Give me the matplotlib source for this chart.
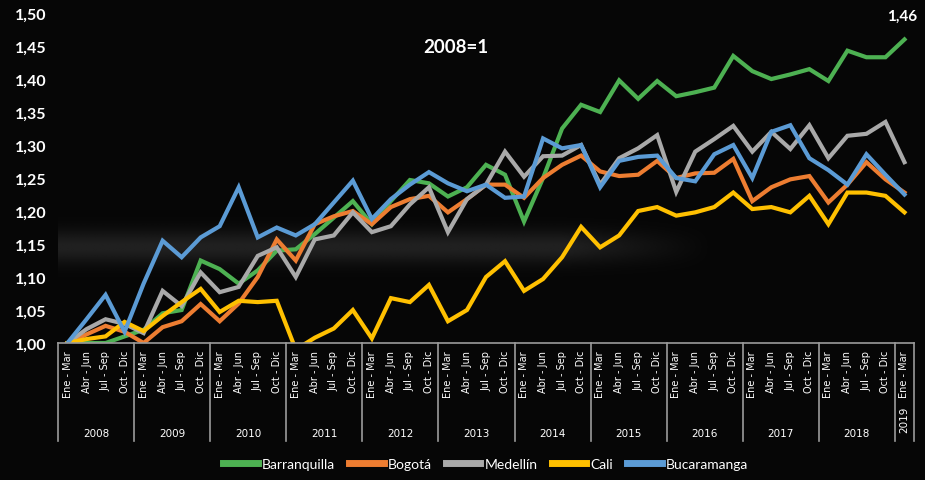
import numpy as np
import matplotlib.pyplot as plt
import matplotlib.transforms as mtransforms

# quarterly index, 2008 = 1
years = ["2008", "2009", "2010", "2011", "2012", "2013", "2014",
         "2015", "2016", "2017", "2018"]
quarters = ["Ene - Mar", "Abr - Jun", "Jul - Sep", "Oct - Dic"]
quarter_labels = quarters * len(years) + ["Ene - Mar"]

barranquilla = [1.00, 1.00, 1.00, 1.01, 1.02, 1.045, 1.05, 1.125, 1.112, 1.09,
                1.11, 1.14, 1.142, 1.165, 1.19, 1.215, 1.18, 1.215, 1.247, 1.242,
                1.222, 1.236, 1.27, 1.255, 1.184, 1.25, 1.325, 1.361, 1.35, 1.398,
                1.37, 1.397, 1.374, 1.38, 1.387, 1.435, 1.412, 1.40, 1.407, 1.415,
                1.397, 1.443, 1.433, 1.433, 1.46]
bogota = [1.00, 1.013, 1.026, 1.017, 1.00, 1.024, 1.033, 1.059, 1.033, 1.06,
          1.10, 1.157, 1.125, 1.18, 1.192, 1.20, 1.18, 1.206, 1.218, 1.223,
          1.198, 1.218, 1.24, 1.24, 1.22, 1.25, 1.27, 1.284, 1.26, 1.253,
          1.255, 1.276, 1.25, 1.257, 1.258, 1.279, 1.215, 1.236, 1.248, 1.253,
          1.213, 1.24, 1.274, 1.248, 1.228]
medellin = [1.00, 1.021, 1.036, 1.029, 1.015, 1.079, 1.056, 1.107, 1.077, 1.085,
            1.132, 1.145, 1.10, 1.157, 1.163, 1.198, 1.168, 1.177, 1.21, 1.236,
            1.168, 1.218, 1.24, 1.29, 1.252, 1.283, 1.284, 1.30, 1.24, 1.28,
            1.295, 1.315, 1.229, 1.29, 1.309, 1.329, 1.29, 1.32, 1.294, 1.33,
            1.28, 1.314, 1.317, 1.335, 1.274]
cali = [1.00, 1.006, 1.01, 1.032, 1.018, 1.041, 1.062, 1.082, 1.047, 1.064,
        1.062, 1.064, 0.99, 1.008, 1.022, 1.05, 1.007, 1.068, 1.062, 1.088,
        1.033, 1.05, 1.10, 1.124, 1.079, 1.097, 1.13, 1.176, 1.145, 1.163,
        1.20, 1.206, 1.193, 1.198, 1.206, 1.228, 1.203, 1.206, 1.198, 1.223,
        1.18, 1.228, 1.228, 1.223, 1.198]
bucaramanga = [1.00, 1.036, 1.073, 1.017, 1.09, 1.155, 1.13, 1.16, 1.177, 1.236,
               1.16, 1.175, 1.163, 1.18, 1.213, 1.246, 1.188, 1.218, 1.24, 1.259,
               1.242, 1.23, 1.24, 1.22, 1.222, 1.31, 1.295, 1.30, 1.236, 1.276,
               1.282, 1.284, 1.25, 1.245, 1.286, 1.30, 1.25, 1.32, 1.33, 1.28,
               1.262, 1.24, 1.286, 1.255, 1.225]

series = [("Barranquilla", barranquilla, "#4db152"),
          ("Bogotá", bogota, "#ed7d31"),
          ("Medellín", medellin, "#a9a9a9"),
          ("Cali", cali, "#ffc000"),
          ("Bucaramanga", bucaramanga, "#5b9bd5")]

x = list(range(len(quarter_labels)))

fig = plt.figure(figsize=(9.25, 4.81), dpi=100, facecolor="#060606")
ax = fig.add_axes([0.0627, 0.2848, 0.9254, 0.686])
ax.set_facecolor("#060606")

# soft hazy band behind the lines
gy = np.linspace(1.0, 1.5, 200)[:, None]
gx = np.linspace(-0.5, 44.5, 300)[None, :]
haze = np.exp(-((gy - 1.145) / 0.025) ** 2) * np.clip((34 - gx) / 8, 0, 1)
rgba = np.zeros((200, 300, 4))
rgba[..., :3] = 0.2
rgba[..., 3] = 0.6 * haze
ax.imshow(rgba, extent=(-0.5, 44.5, 1.0, 1.5), origin="lower",
          aspect="auto", zorder=0, interpolation="bilinear")

for name, vals, col in series:
    ax.plot(x, vals, color=col, lw=3, label=name, solid_joinstyle="miter")

ax.set_xlim(-0.5, 44.5)
ax.set_ylim(1.0, 1.5)

yt = [1.0 + 0.05 * k for k in range(11)]
ax.set_yticks(yt)
ax.set_yticklabels([f"{v:.2f}".replace(".", ",") for v in yt],
                   color="white", fontsize=11.5, fontweight="bold", family="Lato")
ax.tick_params(axis="y", length=0, pad=8)

ax.set_xticks(x)
ax.set_xticklabels(quarter_labels, rotation=90, color="white", fontsize=7,
                   family=["Liberation Sans Narrow", "DejaVu Sans"], va="top")
ax.tick_params(axis="x", length=0, pad=5)

for side in ["left", "right", "top"]:
    ax.spines[side].set_visible(False)
ax.spines["bottom"].set_color("#9a9a9a")
ax.spines["bottom"].set_linewidth(1.2)

# year separators and labels under the quarter labels
trans = mtransforms.blended_transform_factory(ax.transData, ax.transAxes)
bounds = [-0.5 + 4 * k for k in range(len(years) + 1)] + [44.5]
for xb in bounds:
    ax.plot([xb, xb], [0, -0.297], color="#9a9a9a", lw=1.2,
            transform=trans, clip_on=False)
for k, yr in enumerate(years):
    ax.text(4 * k + 1.5, -0.273, yr, transform=trans, ha="center", va="center",
            color="white", fontsize=7.5,
            family=["Liberation Sans Narrow", "DejaVu Sans"])
ax.text(44, -0.23, "2019", transform=trans, ha="center", va="center",
        rotation=90, color="white", fontsize=7.5,
        family=["Liberation Sans Narrow", "DejaVu Sans"])

ax.text(0.465, 0.9, "2008=1", transform=ax.transAxes, ha="center", va="center",
        color="white", fontsize=13.5, fontweight="bold", family="Lato")
ax.annotate(f"{barranquilla[-1]:.2f}".replace(".", ","), (x[-1], barranquilla[-1]),
            xytext=(-2, 12), textcoords="offset points", ha="center",
            va="bottom", color="white", fontsize=11, fontweight="bold",
            family="Lato", annotation_clip=False)

leg = fig.legend(loc="center", bbox_to_anchor=(0.525, 0.034), ncol=5,
                 frameon=False, fontsize=10, handlelength=2.5,
                 columnspacing=1.0, handletextpad=0.3)
for line in leg.get_lines():
    line.set_linewidth(5)
for t in leg.get_texts():
    t.set_color("white")
    t.set_family("Lato")

fig.savefig("out.png", dpi=100, facecolor=fig.get_facecolor())
